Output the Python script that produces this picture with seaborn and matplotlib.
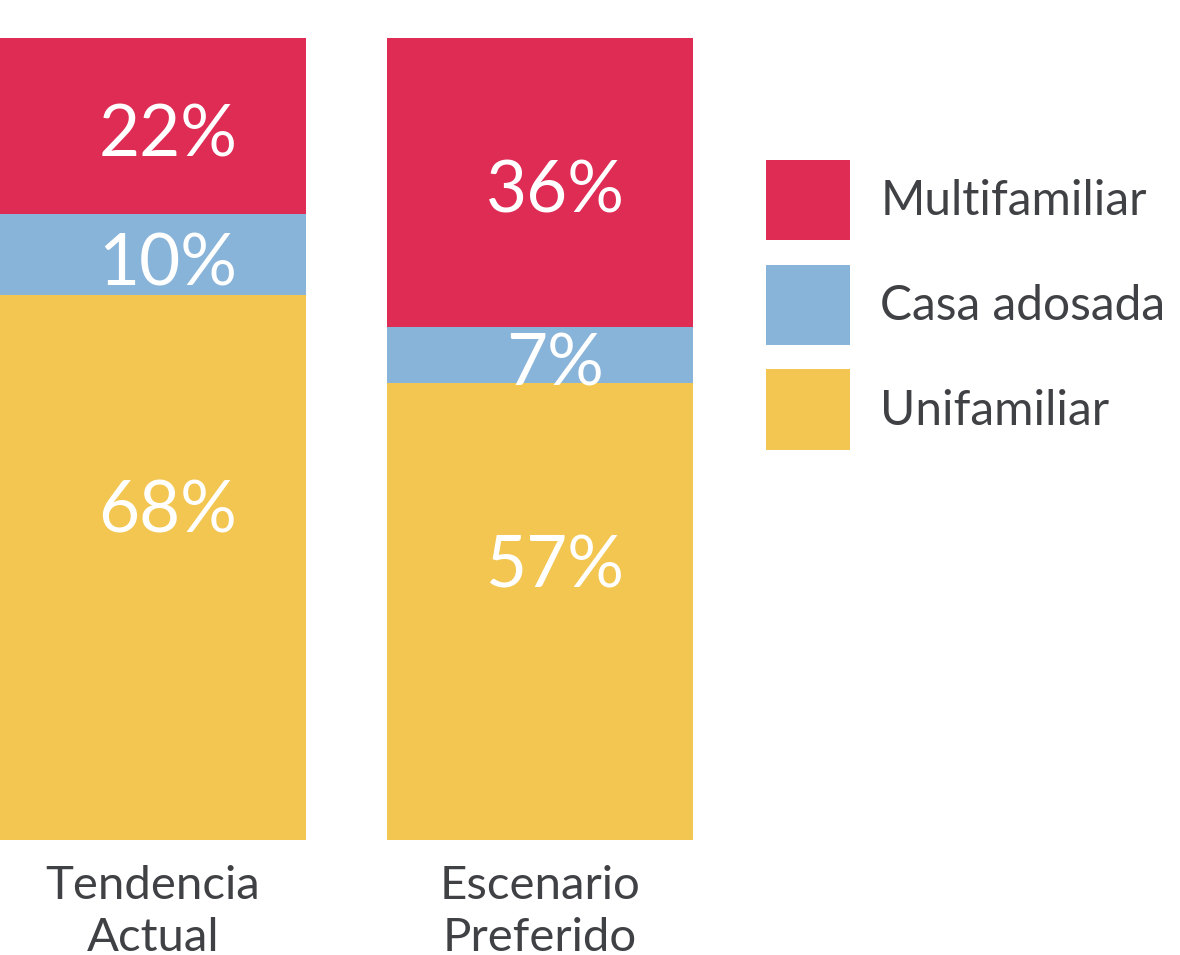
import numpy as np
import pandas as pd
import seaborn as sns
import matplotlib.pyplot as plt
from matplotlib.patches import Patch

escenarios = ["Tendencia\nActual", "Escenario\nPreferido"]
tipos = ["Multifamiliar", "Casa adosada", "Unifamiliar"]
unifamiliar = [68, 57]
casa_adosada = [10, 7]
multifamiliar = [22, 36]

colores = {"Multifamiliar": "#DF2C55", "Casa adosada": "#89B4D9", "Unifamiliar": "#F2C650"}
gris = "#404145"

sns.set_theme(style="white")
plt.rcParams["font.family"] = ["Lato", "DejaVu Sans"]

df = pd.DataFrame({"escenario": escenarios, "Unifamiliar": unifamiliar,
                   "Casa adosada": casa_adosada, "Multifamiliar": multifamiliar})

W, H = 1180, 955
fig = plt.figure(figsize=(W / 100, H / 100), dpi=100)
unit = 387.0                        # px between bar centres
left = -153.0 / unit
ax = fig.add_axes([0, (H - 840) / H, 700 / W, 802 / H])

bottom = np.zeros(len(df))
for tipo in ["Unifamiliar", "Casa adosada", "Multifamiliar"]:
    sns.barplot(data=df, x="escenario", y=tipo, bottom=bottom, color=colores[tipo],
                width=306 / unit, saturation=1, ax=ax, edgecolor="none", linewidth=0)
    for i, v in enumerate(df[tipo]):
        frac = 0.62 if tipo == "Unifamiliar" else 0.5
        # baseline sits ~half a cap height below the anchor
        ax.annotate(f"{v}%", (i + 15 / unit, bottom[i] + v * frac),
                    xytext=(0, -22), textcoords="offset points",
                    ha="center", va="baseline", color="white", fontsize=51)
    bottom = bottom + df[tipo].to_numpy()

ax.set_xlim(left, left + 700 / unit)
ax.set_ylim(0, 100)
ax.set_xlabel("")
ax.set_ylabel("")
ax.set_yticks([])
ax.tick_params(axis="x", length=0, pad=18, labelsize=34, labelcolor=gris)
for lbl in ax.get_xticklabels():
    lbl.set_linespacing(1.3)
sns.despine(ax=ax, left=True, bottom=True)

handles = [Patch(facecolor=colores[t], edgecolor="none") for t in tipos]
fig.legend(handles, tipos, loc="upper left", bbox_to_anchor=(766 / W, 1 - 160 / H),
           frameon=False, fontsize=34.5, labelcolor=gris, handlelength=82 / 47,
           handleheight=2.2, labelspacing=24 / 47, handletextpad=30 / 47,
           borderpad=0, borderaxespad=0)

fig.savefig("out.png", dpi=100)
